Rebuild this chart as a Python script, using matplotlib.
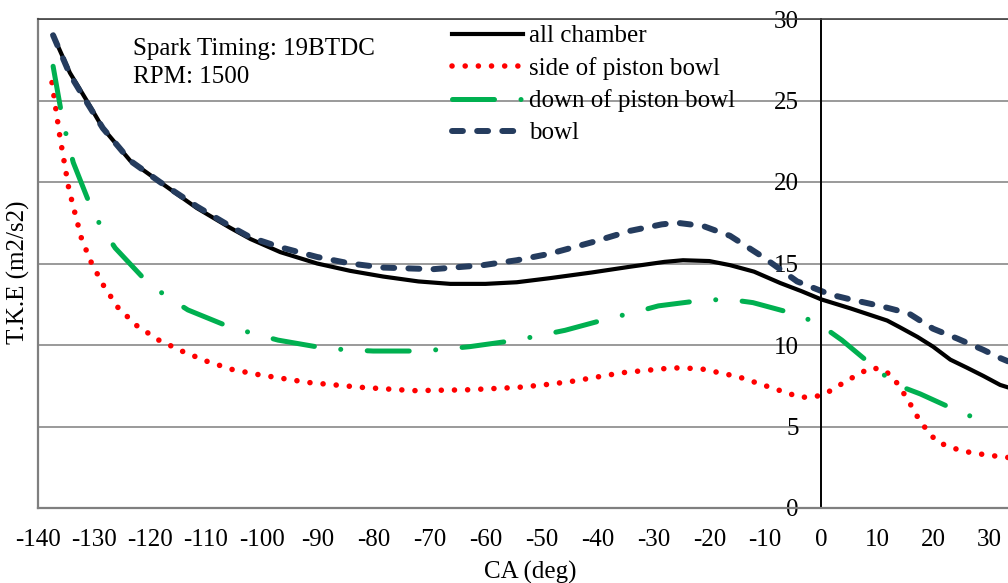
# T.K.E vs crank angle, four regions of the chamber
import matplotlib
matplotlib.use("Agg")
import matplotlib.pyplot as plt

plt.rcParams['font.family'] = ['Liberation Serif', 'DejaVu Serif']
plt.rcParams['font.size'] = 18
plt.rcParams['axes.unicode_minus'] = False

# DATA
# -----------------------------
ca_all = [-137.3, -134.3, -131.3, -128.4, -123.5, -118.2, -111.6, -105.7, -102, -96.7,
          -90.1, -84.2, -78.3, -72, -66.3, -60, -54.4, -48.5, -41, -34.2, -28, -24.7,
          -20, -16.3, -12, -7.3, -3.5, 0, 5.2, 11.8, 14, 17.2, 20, 23.1, 26.1, 29, 32, 33.4]
tke_all = [29.0, 26.7, 25.0, 23.3, 21.3, 20.0, 18.4, 17.2, 16.5, 15.7,
           15.0, 14.55, 14.2, 13.9, 13.75, 13.75, 13.85, 14.1, 14.45, 14.8, 15.1, 15.2,
           15.15, 14.9, 14.5, 13.8, 13.3, 12.8, 12.25, 11.5, 11.1, 10.5, 9.9, 9.1, 8.6, 8.1, 7.55, 7.4]

ca_side = [-137.5, -136.1, -135.3, -134.5, -133.4, -132.2, -130.4, -128.2, -125.7, -122.4,
           -118.4, -114.1, -109.8, -105.3, -100.9, -91.7, -82.1, -72.9, -63.3, -54.2,
           -49.7, -44.9, -35.6, -26.5, -21.6, -14.8, -8.2, -3.8, -1.4, 0.7,
           4.8, 8.8, 11.1, 12.9, 15.4, 17.7, 20.7, 25.1, 29.6, 33.4]
tke_side = [26.1, 22.8, 21.2, 19.6, 18.1, 16.5, 15.0, 13.6, 12.3, 11.2,
            10.3, 9.6, 9.0, 8.5, 8.2, 7.7, 7.4, 7.2, 7.25, 7.4,
            7.55, 7.75, 8.3, 8.6, 8.55, 8.05, 7.3, 6.8, 6.8, 7.0,
            7.85, 8.6, 8.5, 8.0, 6.7, 5.3, 4.05, 3.5, 3.25, 3.1]

ca_down = [-137.3, -135.8, -134.9, -133.7, -130.7, -128.8, -126.2, -120.6, -117.1, -113.2,
           -105.7, -101.4, -97.1, -88.7, -84.4, -80.1, -71.7, -67.1, -62.8, -54.4,
           -50.1, -45.8, -37.7, -33.4, -29.1, -21.1, -16.5, -12.2, -4.1, 0,
           3.7, 10, 13.5, 17.7, 25.4, 29.4, 30]
tke_down = [27.1, 24.2, 22.8, 21.2, 18.6, 17.3, 15.95, 13.9, 13.0, 12.15,
            11.1, 10.7, 10.3, 9.8, 9.7, 9.63, 9.63, 9.75, 9.9, 10.3,
            10.6, 10.9, 11.65, 12.0, 12.4, 12.75, 12.8, 12.6, 11.85, 11.2,
            10.3, 8.5, 7.55, 7.0, 5.8, 5.3, 5.2]

ca_bowl = [-137.3, -134.3, -131.3, -128.4, -123.5, -118.2, -111.6, -105.7, -102, -96.7,
           -90.1, -84.2, -78.3, -69.4, -60.4, -54.4, -48.5, -41, -34.2, -28.5,
           -25.8, -21.1, -16.3, -10.4, -4.3, 1.6, 5.2, 10.5, 15.6, 20, 24.3, 29, 32, 33.4]
tke_bowl = [29.0, 26.6, 24.9, 23.3, 21.3, 20.0, 18.5, 17.3, 16.6, 16.0,
            15.4, 15.0, 14.75, 14.65, 14.9, 15.2, 15.6, 16.3, 17.0, 17.4,
            17.5, 17.3, 16.7, 15.4, 13.9, 13.1, 12.8, 12.4, 11.95, 11.0, 10.4, 9.7, 9.2, 9.0]

labels = ['all chamber', 'side of piston bowl', 'down of piston bowl', 'bowl']
xticks = list(range(-140, 31, 10))
yticks = [0, 5, 10, 15, 20, 25, 30]

# FIGURE
# ------
fig = plt.figure(figsize=(10.08, 5.83), dpi=100)
ax = fig.add_axes([38 / 1008, 75 / 583, 970 / 1008, 489 / 583])

ax.plot(ca_all, tke_all, color='black', lw=3.0, label=labels[0])
ax.plot(ca_side, tke_side, color='#ff0000', lw=4.0, linestyle=(0, (0.01, 2.36)),
        dash_capstyle='round', label=labels[1])
ax.plot(ca_down, tke_down, color='#00b050', lw=3.6, linestyle=(0, (8.4, 5.3, 0.01, 5.3)),
        dash_capstyle='round', label=labels[2])
ax.plot(ca_bowl, tke_bowl, color='#253c5e', lw=4.3, linestyle=(0, (1.83, 2.38)),
        dash_capstyle='round', label=labels[3])

ax.set_xlim(-140, 33.4)
ax.set_ylim(0, 30)
ax.set_xticks(xticks)
ax.set_yticks(yticks)
ax.grid(axis='y', color='#9a9a9a', lw=1.4)
ax.set_axisbelow(True)

# y axis sits at CA = 0, plot border on the left stays grey
ax.spines['left'].set_position(('data', 0))
ax.spines['left'].set_color('black')
ax.spines['left'].set_linewidth(1.4)
ax.axvline(-140, color='#7f7f7f', lw=1.6, clip_on=False)
ax.spines['right'].set_visible(False)
ax.spines['top'].set_color('#404040')
ax.spines['top'].set_linewidth(1.2)
ax.spines['bottom'].set_color('#7f7f7f')
ax.spines['bottom'].set_linewidth(1.6)
ax.tick_params(axis='y', length=0, pad=16)
ax.tick_params(axis='x', length=0, pad=15)

fig.text(18 / 1008, 1 - 272 / 583, 'T.K.E (m2/s2)', rotation=90, ha='center', va='center')
fig.text(530 / 1008, 1 - 572 / 583, 'CA (deg)', ha='center', va='center')
fig.text(133 / 1008, 1 - 55 / 583, 'Spark Timing: 19BTDC', va='baseline')
fig.text(133 / 1008, 1 - 83 / 583, 'RPM: 1500', va='baseline')

ax.legend(loc='upper left', bbox_to_anchor=(452 / 1008, 1 - 25 / 583),
          bbox_transform=fig.transFigure, frameon=False, borderpad=0, borderaxespad=0,
          handlelength=2.84, handletextpad=0.24, labelspacing=0.38)

fig.savefig('out.png', dpi=100)
